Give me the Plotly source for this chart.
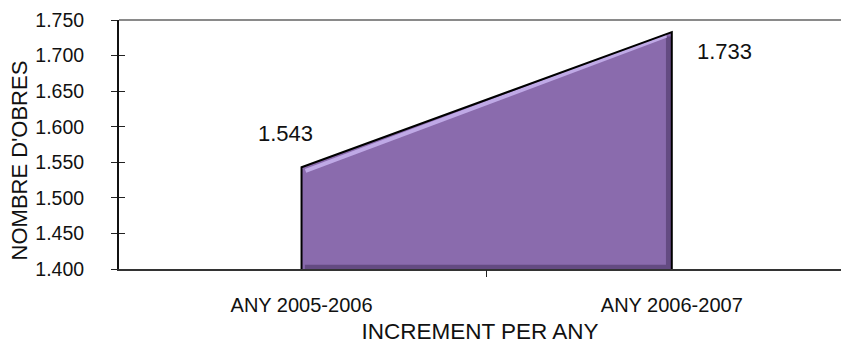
import plotly.graph_objects as go

categories = ["ANY 2005-2006", "ANY 2006-2007"]
values = [1543, 1733]
y_min, y_max, y_step = 1400, 1750, 50
y_ticks = list(range(y_min, y_max + 1, y_step))
x_title = "INCREMENT PER ANY"
y_title = "NOMBRE D'OBRES"

FONT = "Liberation Sans, Arial, sans-serif"
FILL = "#8A6BAD"

x_pos = list(range(len(categories)))
x_range = [-0.493, 1.457]
x_bounds = [i - 0.5 for i in range(len(categories) + 1)]


def fmt(v):
    return f"{v:,}".replace(",", ".")


fig = go.Figure()

# area polygon (closed down to the axis baseline)
fig.add_trace(go.Scatter(
    x=[x_pos[0], x_pos[0], x_pos[1], x_pos[1]],
    y=[y_min, values[0], values[1], y_min],
    fill="toself", fillcolor=FILL, mode="lines",
    line=dict(color="rgba(0,0,0,0)", width=0), hoverinfo="skip", showlegend=False,
))

# bevel: shading inside right and bottom edges, highlight under the top edge
dx = 0.009
dy = (y_max - y_min) * 0.012
fig.add_trace(go.Scatter(
    x=[x_pos[0] + dx, x_pos[1] - dx, x_pos[1] - dx],
    y=[y_min + dy * 0.6, y_min + dy * 0.6, values[1] - dy * 1.5],
    mode="lines", line=dict(color="rgba(70,50,95,0.55)", width=5),
    hoverinfo="skip", showlegend=False,
))
fig.add_trace(go.Scatter(
    x=[x_pos[0] + dx * 1.2, x_pos[1] - dx * 1.6],
    y=[values[0] - dy * 1.2, values[1] - dy * 1.2],
    mode="lines", line=dict(color="rgba(200,180,240,0.85)", width=4),
    hoverinfo="skip", showlegend=False,
))

# black outline
fig.add_trace(go.Scatter(
    x=[x_pos[0], x_pos[0], x_pos[1], x_pos[1]],
    y=[y_min, values[0], values[1], y_min],
    mode="lines", line=dict(color="black", width=2),
    hoverinfo="skip", showlegend=False,
))

# label annotations
fig.add_annotation(x=x_pos[0], y=values[0], text=fmt(values[0]),
                   showarrow=False, xshift=-16, yshift=34,
                   font=dict(family=FONT, size=22, color="#111"))
fig.add_annotation(x=x_pos[1], y=values[1], text=fmt(values[1]),
                   showarrow=False, xshift=53, yshift=-19,
                   font=dict(family=FONT, size=22, color="#111"))

# y-axis title
fig.add_annotation(text=y_title, xref="paper", yref="paper", x=0, y=0.434,
                   xanchor="center", yanchor="middle", xshift=-99.5,
                   textangle=-90, showarrow=False,
                   font=dict(family=FONT, size=22, color="#111"))

fig.update_layout(
    width=841, height=344,
    margin=dict(l=119, r=0, t=20, b=75),
    paper_bgcolor="white", plot_bgcolor="white",
    separators=",.",
    font=dict(family=FONT, color="#111"),
    xaxis=dict(
        range=x_range, tickvals=x_pos, ticktext=categories,
        ticks="", showline=True, linecolor="#333", linewidth=2, showgrid=False,
        tickfont=dict(size=20, family=FONT), ticklabelstandoff=17,
        title=dict(text=x_title, font=dict(size=22.5, family=FONT), standoff=10),
        zeroline=False,
    ),
    xaxis2=dict(
        range=x_range, tickvals=x_bounds, overlaying="x", side="bottom",
        ticks="outside", ticklen=7, tickcolor="#222", showticklabels=False,
        showline=False, showgrid=False, zeroline=False,
    ),
    yaxis=dict(
        range=[y_min, y_max], tickvals=y_ticks, tickformat=",.0f",
        ticks="outside", ticklen=6, tickcolor="#222",
        showline=True, linecolor="#111", linewidth=2, showgrid=False,
        zeroline=False, ticklabelstandoff=23,
        tickfont=dict(size=19.5, family=FONT),
    ),
    yaxis2=dict(
        range=[y_min, y_max], tickvals=y_ticks, overlaying="y", side="left",
        ticks="inside", ticklen=6, tickcolor="#222", showticklabels=False,
        showline=False, showgrid=False, zeroline=False,
    ),
    shapes=[dict(type="line", xref="paper", yref="paper", x0=0, x1=1, y0=1, y1=1,
                 line=dict(color="#8a8a8a", width=2))],
)
fig.add_trace(go.Scatter(x=[x_pos[0]], y=[y_min], xaxis="x2", yaxis="y2", mode="markers",
                         marker=dict(opacity=0), hoverinfo="skip", showlegend=False))

fig.write_html(
    "out.html",
    config={"displayModeBar": False},
    post_script="document.body.style.margin='0';document.body.style.overflow='hidden';",
)
